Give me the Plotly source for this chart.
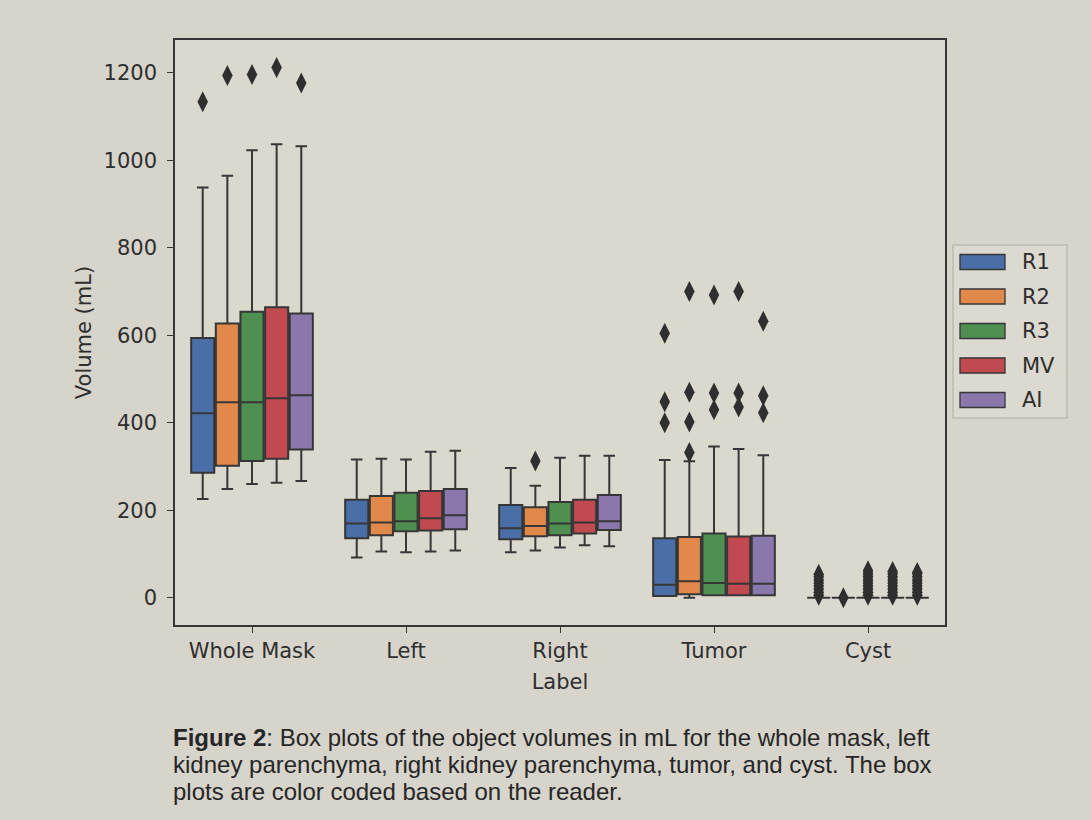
import plotly.graph_objects as go

categories = ["Whole Mask", "Left", "Right", "Tumor", "Cyst"]
readers = ["R1", "R2", "R3", "MV", "AI"]
colors = ["#4a6fa8", "#e0894a", "#4f8f52", "#c04a50", "#8a78ad"]

# per reader: values for [Whole Mask, Left, Right, Tumor, Cyst]
lower_fence = {
    "R1": [226, 92, 104, 4, 0],
    "R2": [249, 106, 108, 0, 0],
    "R3": [260, 104, 115, 6, 0],
    "MV": [263, 106, 120, 6, 0],
    "AI": [267, 108, 118, 6, 0],
}
q1 = {
    "R1": [286, 136, 134, 4, 0],
    "R2": [302, 143, 141, 8, 0],
    "R3": [313, 152, 143, 6, 0],
    "MV": [318, 154, 147, 6, 0],
    "AI": [339, 157, 155, 6, 0],
}
median = {
    "R1": [422, 170, 159, 30, 0],
    "R2": [447, 172, 164, 38, 0],
    "R3": [447, 175, 170, 34, 0],
    "MV": [456, 182, 172, 32, 0],
    "AI": [463, 189, 175, 32, 0],
}
q3 = {
    "R1": [594, 224, 212, 136, 0],
    "R2": [627, 233, 207, 139, 0],
    "R3": [654, 240, 219, 147, 0],
    "MV": [664, 244, 224, 140, 0],
    "AI": [650, 249, 235, 142, 0],
}
upper_fence = {
    "R1": [938, 316, 297, 315, 0],
    "R2": [965, 318, 256, 312, 0],
    "R3": [1023, 316, 320, 346, 0],
    "MV": [1037, 334, 325, 340, 0],
    "AI": [1032, 336, 325, 326, 0],
}
outliers = {
    "R1": [[1134], [], [], [605, 448, 400], [6, 13, 20, 27, 34, 41, 48, 54]],
    "R2": [[1194], [], [313], [700, 470, 402, 332], [0]],
    "R3": [[1196], [], [], [692, 468, 430], [6, 13, 20, 27, 34, 41, 48, 55, 62]],
    "MV": [[1212], [], [], [700, 468, 436], [6, 13, 20, 27, 34, 41, 48, 55, 60]],
    "AI": [[1177], [], [], [632, 462, 423], [6, 13, 20, 27, 34, 41, 48, 55, 58]],
}

y_ticks = [0, 200, 400, 600, 800, 1000, 1200]

TXT = "#2e2e2e"
LINE = "#363636"
step = 0.16
box_w = 0.15

fig = go.Figure()
for i, r in enumerate(readers):
    off = (i - 2) * step
    xs = [k + off for k in range(len(categories))]
    fig.add_trace(go.Box(
        name=r, x=xs,
        q1=q1[r], median=median[r], q3=q3[r],
        lowerfence=lower_fence[r], upperfence=upper_fence[r],
        width=box_w, whiskerwidth=0.5,
        fillcolor=colors[i],
        line=dict(color=LINE, width=2),
        boxpoints=False, showlegend=False, hoverinfo="skip",
    ))
for i, r in enumerate(readers):
    off = (i - 2) * step
    ox, oy = [], []
    for k, vals in enumerate(outliers[r]):
        for v in vals:
            ox.append(k + off)
            oy.append(v)
    fig.add_trace(go.Scatter(
        x=ox, y=oy, mode="markers", showlegend=False, hoverinfo="skip",
        marker=dict(symbol="diamond-tall", size=15, color="#2f2f2f",
                    line=dict(width=0)),
    ))

# plot area in pixels: x 175..945, y 40..625
L, R, T, B = 175, 945, 40, 625
W, H = R - L, B - T


def px_x(px):
    return (px - L) / W


def px_y(py):
    return (B - py) / H


# legend (drawn by hand to match the wide patches)
fig.add_shape(type="rect", xref="paper", yref="paper",
              x0=px_x(953), x1=px_x(1067), y0=px_y(418), y1=px_y(245),
              fillcolor="#dcd9d0", line=dict(color="#bdbab2", width=1.5),
              layer="above")
for i, r in enumerate(readers):
    cy = 262 + i * 34.5
    fig.add_shape(type="rect", xref="paper", yref="paper",
                  x0=px_x(960), x1=px_x(1005), y0=px_y(cy + 7.5), y1=px_y(cy - 7.5),
                  fillcolor=colors[i], line=dict(color=LINE, width=1.3),
                  layer="above")
    fig.add_annotation(text=r, xref="paper", yref="paper",
                       x=px_x(1020), y=px_y(cy), xanchor="left", yanchor="middle",
                       showarrow=False, font=dict(size=21, color=TXT))

fig.update_layout(
    width=1091, height=820,
    margin=dict(l=L, r=1091 - R, t=T, b=820 - B),
    paper_bgcolor="#d7d4cb",
    plot_bgcolor="#dbd8ce",
    boxmode="overlay",
    showlegend=False,
    font=dict(family="DejaVu Sans", size=21, color=TXT),
)
fig.update_xaxes(
    range=[-0.5, 4.5], tickvals=list(range(len(categories))), ticktext=categories,
    ticks="outside", ticklen=6, tickwidth=1.3, tickcolor=LINE,
    showline=True, linecolor=LINE, linewidth=1.5, mirror=True,
    showgrid=False, zeroline=False,
    title=dict(text="Label", standoff=12, font=dict(size=21, color=TXT)),
)
fig.update_yaxes(
    range=[-62, 1275], tickvals=y_ticks, ticktext=[str(v) for v in y_ticks],
    ticks="outside", ticklen=6, tickwidth=1.3, tickcolor=LINE,
    showline=True, linecolor=LINE, linewidth=1.5, mirror=True,
    showgrid=False, zeroline=False, ticklabelstandoff=6,
    title=dict(text="Volume (mL)", standoff=6, font=dict(size=21, color=TXT)),
)

caption = [
    "<b>Figure 2</b>: Box plots of the object volumes in mL for the whole mask, left",
    "kidney parenchyma, right kidney parenchyma, tumor, and cyst. The box",
    "plots are color coded based on the reader.",
]
for j, line in enumerate(caption):
    fig.add_annotation(
        text=line, xref="paper", yref="paper", x=px_x(171), y=px_y(737 + j * 27.5),
        xanchor="left", yanchor="middle", showarrow=False,
        font=dict(family="Liberation Sans", size=24, color="#262626"),
    )

fig.write_html("out.html")
